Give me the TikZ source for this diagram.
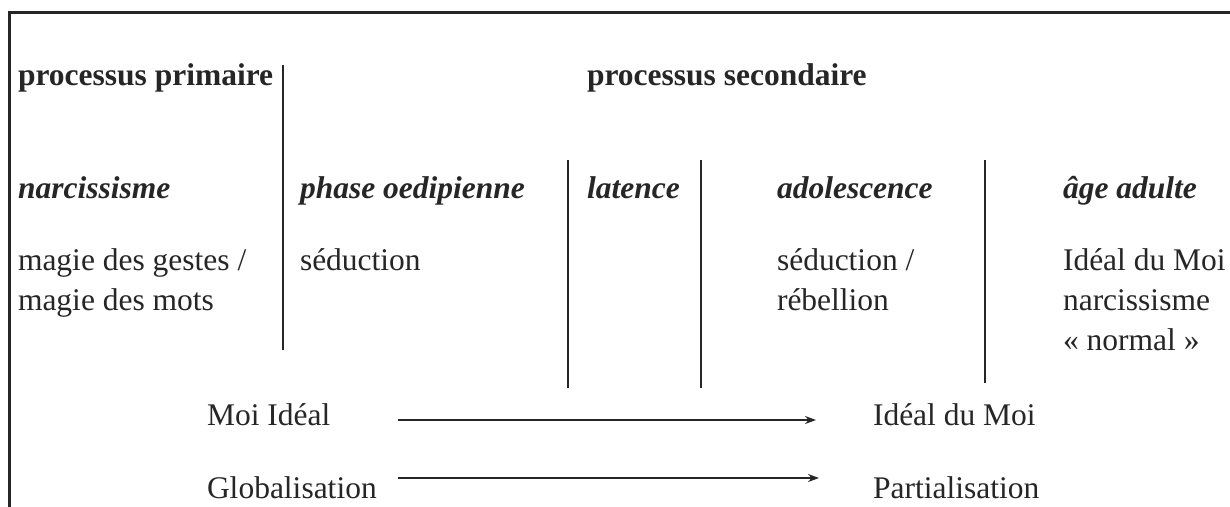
\documentclass[tikz,border=0pt]{standalone}
\usepackage{fontspec}
\setmainfont{Liberation Serif}
\usetikzlibrary{arrows.meta}
\definecolor{ink}{RGB}{38,38,38}
\tikzset{
  txt/.style={anchor=base west, inner sep=0pt, outer sep=0pt, text=ink,
    font=\fontsize{31.5}{40}\selectfont},
  hd/.style={txt, font=\fontsize{31.5}{40}\selectfont\bfseries},
  ph/.style={txt, font=\fontsize{31.5}{40}\selectfont\bfseries\itshape},
  sep/.style={draw=ink, line width=2pt},
  arr/.style={draw=ink, line width=1.6pt, -{Stealth[length=11pt,width=8pt]}}
}
\begin{document}
\begin{tikzpicture}[x=1pt,y=-1pt]
\useasboundingbox (0,0) rectangle (1230,506);
\clip (0,0) rectangle (1230,506);
\fill[white] (0,0) rectangle (1230,506);
% frame
\draw[draw=ink, line width=3pt] (9,520) -- (9,12) -- (1240,12);

% headings
\node[hd] (pp) at (18,85) {processus primaire};
\node[hd] (ps) at (587,85) {processus secondaire};

% phases
\node[ph] (nar) at (18,198) {narcissisme};
\node[ph] (oed) at (300,198) {phase oedipienne};
\node[ph] (lat) at (587,198) {latence};
\node[ph] (ado) at (777,198) {adolescence};
\node[ph] (adu) at (1063,198) {âge adulte};

% contents
\node[txt] (m1) at (18,270) {magie des gestes /};
\node[txt] (m2) at (18,310) {magie des mots};
\node[txt] (s1) at (300,270) {séduction};
\node[txt] (r1) at (777,270) {séduction /};
\node[txt] (r2) at (777,310) {rébellion};
\node[txt] (i1) at (1063,270) {Idéal du Moi};
\node[txt] (i2) at (1063,310) {narcissisme};
\node[txt] (i3) at (1063,350) {« normal »};

% separators
\coordinate (v1t) at (283,65);  \coordinate (v1b) at (283,350);
\coordinate (v2t) at (568,160); \coordinate (v2b) at (568,388);
\coordinate (v3t) at (701,160); \coordinate (v3b) at (701,388);
\coordinate (v4t) at (985,160); \coordinate (v4b) at (985,383);
\draw[sep] (v1t) -- (v1b);
\draw[sep] (v2t) -- (v2b);
\draw[sep] (v3t) -- (v3b);
\draw[sep] (v4t) -- (v4b);

% bottom rows
\node[txt] (mi) at (207,425) {Moi Idéal};
\node[txt] (idm) at (873,425) {Idéal du Moi};
\node[txt] (glo) at (207,498) {Globalisation};
\node[txt] (par) at (873,498) {Partialisation};
\coordinate (a1s) at (398,420); \coordinate (a1e) at (816,420);
\coordinate (a2s) at (398,478); \coordinate (a2e) at (819,478);
\draw[arr] (a1s) -- (a1e);
\draw[arr] (a2s) -- (a2e);
\end{tikzpicture}
\end{document}
